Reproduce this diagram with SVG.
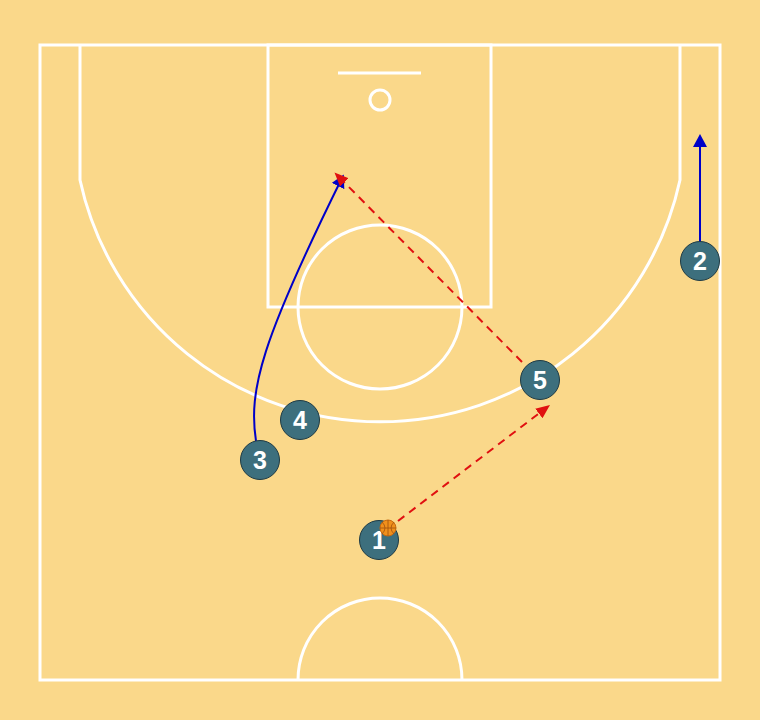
<svg xmlns="http://www.w3.org/2000/svg" width="760" height="720" viewBox="0 0 760 720">
<defs>
<style>
.court{fill:none;stroke:#ffffff;stroke-width:3}
.pl circle{fill:#3d6f7d;stroke:#1e3a44;stroke-width:1}
.pl text{fill:#ffffff;font-family:"Liberation Sans",Arial,sans-serif;font-weight:bold;font-size:25px;text-anchor:middle}
.pass{fill:none;stroke:#e01010;stroke-width:2;stroke-dasharray:8,6}
.move{fill:none;stroke:#0000c8;stroke-width:2}
</style>
<marker id="ar" markerWidth="14" markerHeight="12" refX="9" refY="6" orient="auto" markerUnits="userSpaceOnUse" viewBox="0 0 14 12"><path d="M0,0 L14,6 L0,12 z" fill="#e01010"/></marker>
<marker id="ab" markerWidth="13" markerHeight="14" refX="9" refY="7" orient="auto" markerUnits="userSpaceOnUse" viewBox="0 0 13 14"><path d="M0,0 L13,7 L0,14 z" fill="#0000c8"/></marker>
</defs>
<rect width="760" height="720" fill="#fad88a"/>
<g id="court">
<rect class="court" x="40" y="45" width="680" height="635"/>
<rect class="court" x="268" y="45" width="223" height="262"/>
<circle class="court" cx="380" cy="307" r="82"/>
<circle class="court" cx="380" cy="100" r="10"/>
<line class="court" x1="338" y1="73" x2="421" y2="73" stroke-width="2"/>
<path class="court" d="M80,45 L80,180 A307,307 0 0 0 680,180 L680,45"/>
<path class="court" d="M298,680 A82,82 0 0 1 462,680"/>
</g>
<g id="connectors">
<path class="move" d="M700,242 L700,138" marker-end="url(#ab)"/>
<path class="move" d="M256,441 C248,390 262,340 342,178" marker-end="url(#ab)"/>
<path class="pass" d="M522,362 L338,176" marker-end="url(#ar)"/>
<path class="pass" d="M398,521 L546,408" marker-end="url(#ar)"/>
</g>
<g id="p1" class="pl"><circle cx="379" cy="540" r="19.5"/><text x="379" y="549">1</text></g>
<g id="ball"><circle cx="388" cy="528" r="8" fill="#f0901c" stroke="#c86a10" stroke-width="1"/><path d="M380,528 H396 M388,520 V536 M382,522 Q388,528 382,534 M394,522 Q388,528 394,534" fill="none" stroke="#a05010" stroke-width="0.8"/></g>
<g id="p2" class="pl"><circle cx="700" cy="261" r="19.5"/><text x="700" y="270">2</text></g>
<g id="p3" class="pl"><circle cx="260" cy="460" r="19.5"/><text x="260" y="469">3</text></g>
<g id="p4" class="pl"><circle cx="300" cy="420" r="19.5"/><text x="300" y="429">4</text></g>
<g id="p5" class="pl"><circle cx="540" cy="380" r="19.5"/><text x="540" y="389">5</text></g>
</svg>
